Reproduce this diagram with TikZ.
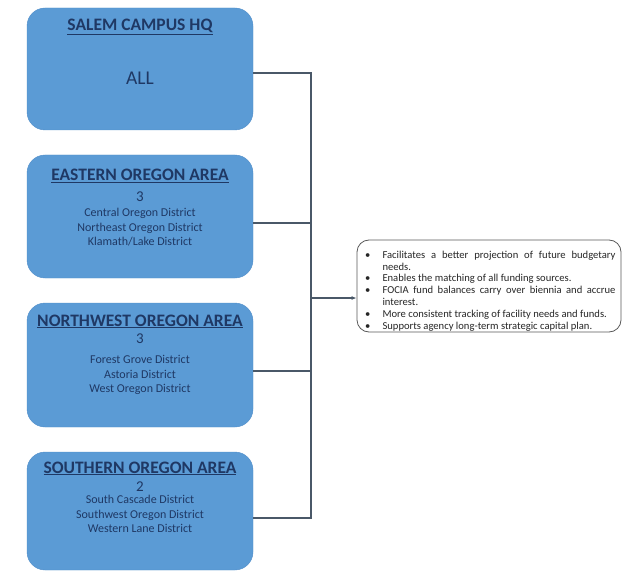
\documentclass[tikz,border=0pt]{standalone}
\usepackage{fontspec}
\setmainfont{Carlito}
\usepackage{enumitem}
\usetikzlibrary{arrows.meta,positioning}
\definecolor{areablue}{HTML}{5B9BD5}
\definecolor{areaedge}{HTML}{4F8DC9}
\definecolor{navy}{HTML}{1F3864}
\definecolor{wirec}{HTML}{4A5868}
\definecolor{frame}{HTML}{595959}
\definecolor{ink}{HTML}{262626}

\begin{document}
\begin{tikzpicture}[x=1pt,y=-1pt,>=Latex,
  area/.style={draw=areaedge,fill=areablue,rounded corners=18pt,minimum width=226pt,inner sep=0pt},
  areatitle/.style={anchor=base,text=navy,inner sep=0pt,font=\fontsize{17.5}{20}\selectfont\bfseries},
  areacount/.style={anchor=base,text=navy,inner sep=0pt,font=\fontsize{15}{18}\selectfont},
  arealist/.style={text=navy,align=center,inner sep=0pt,font=\fontsize{12}{14.5}\selectfont},
  wire/.style={draw=wirec,line width=1.4pt},
  benefitbox/.style={draw=frame,fill=white,rounded corners=12pt,line width=0.8pt,minimum width=264pt,minimum height=92pt,inner sep=0pt,text=ink,font=\fontsize{10.6}{11.8}\selectfont}]
\useasboundingbox (0,0) rectangle (626,572);

% area boxes
\node[area,minimum height=122pt] (salem) at (140,69) {};
\node[area,minimum height=123pt] (eastern) at (140,216.5) {};
\node[area,minimum height=124pt] (northwest) at (140,365) {};
\node[area,minimum height=118pt] (southern) at (140,511) {};

% texts
\node[areatitle] (salemT) at (140,31) {\underline{SALEM CAMPUS HQ}};
\node[areacount,font=\fontsize{19.5}{22}\selectfont] (salemN) at (140,85) {ALL};

\node[areatitle] (easternT) at (140,181) {\underline{EASTERN OREGON AREA}};
\node[areacount] (easternN) at (140,201) {3};
\node[arealist,below=7pt of easternN] (easternL) {Central Oregon District\\Northeast Oregon District\\Klamath/Lake District};

\node[areatitle] (northwestT) at (140,326) {\underline{NORTHWEST OREGON AREA}};
\node[areacount] (northwestN) at (140,343) {3};
\node[arealist,below=12pt of northwestN] (northwestL) {Forest Grove District\\Astoria District\\West Oregon District};

\node[areatitle] (southernT) at (140,473) {\underline{SOUTHERN OREGON AREA}};
\node[areacount] (southernN) at (140,491) {2};
\node[arealist,below=4pt of southernN] (southernL) {South Cascade District\\Southwest Oregon District\\Western Lane District};

% benefits
\node[benefitbox] (benefits) at (489,286) {\begin{minipage}[c][88pt][b]{253pt}
\hyphenpenalty=10000 \exhyphenpenalty=10000
\begin{itemize}[leftmargin=20pt,labelsep=12pt,nosep,label=\textbullet]
\item Facilitates a better projection of future budgetary needs.
\item Enables the matching of all funding sources.
\item FOCIA fund balances carry over biennia and accrue interest.
\item More consistent tracking of facility needs and funds.
\item Supports agency long-term strategic capital plan.
\end{itemize}\end{minipage}};

% connectors
\coordinate (j1) at (311,73);
\coordinate (j2) at (311,223);
\coordinate (j3) at (311,371);
\coordinate (j4) at (311,518);
\coordinate (jm) at (311,298);
\draw[wire] (salem.east |- j1) -- (j1) -- (j4) -- (southern.east |- j4);
\draw[wire] (eastern.east |- j2) -- (j2);
\draw[wire] (northwest.east |- j3) -- (j3);
\draw[wire,-{Latex[length=5pt,width=4pt]}] (jm) -- (benefits.west |- jm);
\end{tikzpicture}
\end{document}
